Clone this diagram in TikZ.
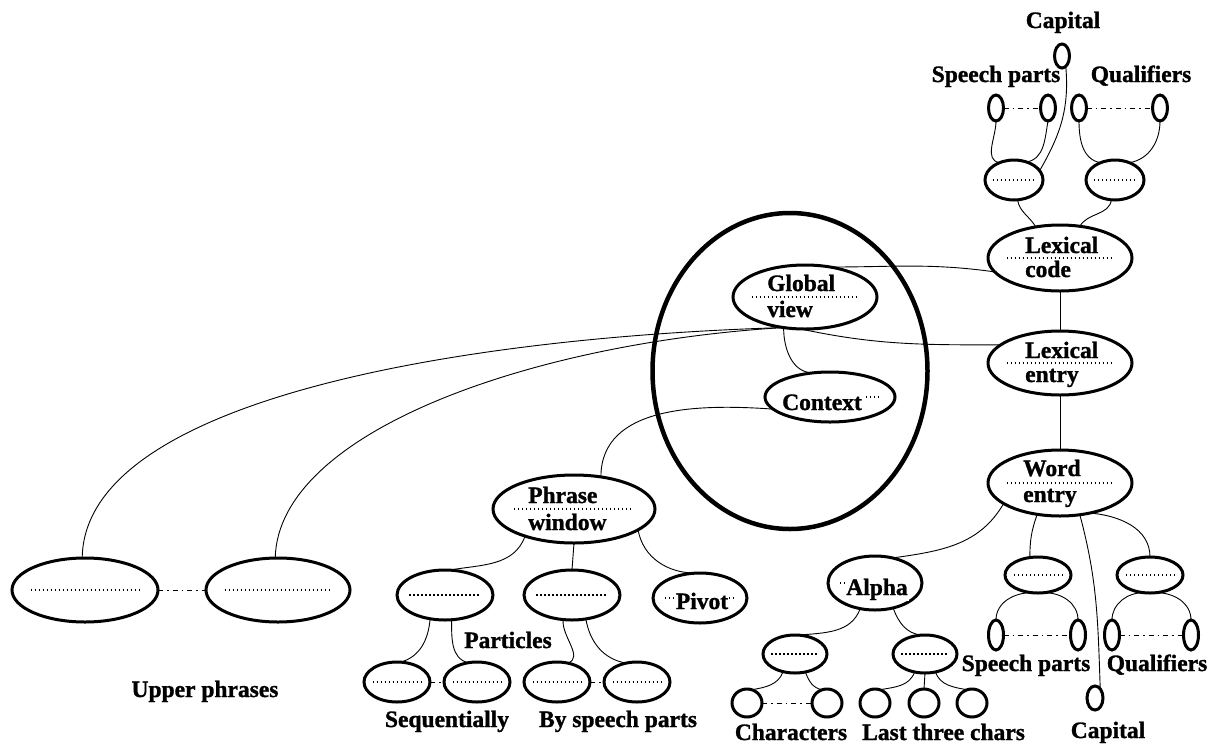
\documentclass[tikz,border=0pt]{standalone}
\usepackage{fontspec}
\setmainfont[BoldFeatures={FakeBold=1.2}]{Liberation Serif}
\usetikzlibrary{shapes.geometric,calc}
\begin{document}
\begin{tikzpicture}[x=1pt,y=1pt,
  dotline/.style={line width=1.2pt, dash pattern=on 1.2pt off 2.8pt},
  el/.style 2 args={ellipse, draw, line width=3pt, minimum width=#1, minimum height=#2, inner sep=0pt, outer sep=0pt},
  dl/.style 2 args={el={#1}{#2}, path picture={\draw[dotline] ($(path picture bounding box.west)!0.13!(path picture bounding box.east)$) -- ($(path picture bounding box.west)!0.87!(path picture bounding box.east)$);}},
  bigel/.style={ellipse, draw, line width=4.5pt, minimum width=275, minimum height=316, inner sep=0pt},
  lbl/.style={font=\bfseries\fontsize{23.5}{26}\selectfont, inner sep=0pt},
  wlbl/.style={lbl, fill=white, inner sep=1pt},
  conn/.style={line width=0.9pt},
  ddash/.style={line width=0.9pt, dash pattern=on 5pt off 4pt on 1.5pt off 4pt}
]
\useasboundingbox (0,0) rectangle (1216,-745);

% ---------- big ellipse ----------
\node[bigel] (bigring) at (790,-371) {};

% ---------- top group ----------
\node[el={15}{24}] (capt) at (1062,-56) {};
\node[el={15}{26}] (ts1) at (996,-108) {};
\node[el={15}{26}] (ts2) at (1048,-108) {};
\node[el={15}{26}] (ts3) at (1079,-108) {};
\node[el={15}{26}] (ts4) at (1160,-108) {};
\node[dl={58}{40}] (tml) at (1014,-180) {};
\node[dl={58}{40}] (tmr) at (1115,-180) {};

% ---------- main column ----------
\node[dl={144}{66}] (lexcode) at (1060,-258) {};
\node[dl={144}{64}] (lexentry) at (1060,-363) {};
\node[dl={144}{66}] (wordentry) at (1060,-483) {};
\node[dl={144}{64}] (globalview) at (805,-297) {};
\node[dl={130}{50}] (context) at (830,-397) {};
\node[dl={162}{68}] (phrasewin) at (574,-509) {};

% ---------- word entry children ----------
\node[dl={66}{36}] (wml) at (1038,-575) {};
\node[dl={66}{36}] (wmr) at (1150,-575) {};
\node[el={15}{30}] (ws1) at (996,-635) {};
\node[el={15}{30}] (ws2) at (1078,-635) {};
\node[el={15}{30}] (ws3) at (1112,-635) {};
\node[el={15}{30}] (ws4) at (1191,-635) {};
\node[el={16}{24}] (capb) at (1095,-698) {};

% ---------- alpha ----------
\node[dl={94}{54}] (alpha) at (875,-583) {};
\node[dl={64}{38}] (aml) at (795,-654) {};
\node[dl={64}{38}] (amr) at (925,-654) {};
\node[el={30}{28}] (as1) at (747,-703) {};
\node[el={30}{28}] (as2) at (827,-703) {};
\node[el={30}{28}] (as3) at (875,-703) {};
\node[el={30}{28}] (as4) at (924,-703) {};
\node[el={30}{28}] (as5) at (972,-703) {};

% ---------- phrase window children ----------
\node[dl={96}{50}] (pl) at (445,-595) {};
\node[dl={96}{50}] (pm) at (572,-595) {};
\node[dl={94}{50}] (pivot) at (700,-598) {};
\node[dl={66}{40}] (ps1) at (397,-682) {};
\node[dl={66}{40}] (ps2) at (477,-682) {};
\node[dl={66}{40}] (ps3) at (557,-682) {};
\node[dl={66}{40}] (ps4) at (637,-682) {};

% ---------- upper phrases ----------
\node[dl={146}{64}] (up1) at (85,-590) {};
\node[dl={144}{64}] (up2) at (278,-590) {};

% ---------- labels inside ellipses ----------
\node[lbl, anchor=base west] (lexcodeA) at (1025,-253) {Lexical};
\node[lbl, anchor=base west] (lexcodeB) at (1025,-277) {code};
\node[lbl, anchor=base west] (lexentryA) at (1025,-358) {Lexical};
\node[lbl, anchor=base west] (lexentryB) at (1025,-382) {entry};
\node[lbl, anchor=base west] (wordA) at (1023,-476) {Word};
\node[lbl, anchor=base west] (wordB) at (1023,-502) {entry};
\node[lbl, anchor=base west] (globA) at (767,-291) {Global};
\node[lbl, anchor=base west] (globB) at (767,-317) {view};
\node[lbl, anchor=base west] (phrA) at (528,-503) {Phrase};
\node[lbl, anchor=base west] (phrB) at (528,-530) {window};
\node[wlbl, anchor=base] (ctxt) at (822,-410) {Context};
\node[wlbl, anchor=base] (alphat) at (877,-595) {Alpha};
\node[wlbl, anchor=base] (pivott) at (702,-609) {Pivot};

% ---------- free labels ----------
\node[lbl, anchor=base] (tcap) at (1063,-28) {Capital};
\node[lbl, anchor=base] (tsp) at (996,-82) {Speech parts};
\node[lbl, anchor=base] (tq) at (1141,-82) {Qualifiers};
\node[lbl, anchor=base] (bsp) at (1026,-671) {Speech parts};
\node[lbl, anchor=base] (bq) at (1157,-671) {Qualifiers};
\node[lbl, anchor=base] (bcap) at (1108,-738) {Capital};
\node[lbl, anchor=base] (chars) at (791,-740) {Characters};
\node[lbl, anchor=base west] (last3) at (862,-740) {Last three chars};
\node[lbl, anchor=base] (seq) at (447,-727) {Sequentially};
\node[lbl, anchor=base] (bysp) at (618,-727) {By speech parts};
\node[lbl, anchor=base] (part) at (508,-648) {Particles};
\node[lbl, anchor=base] (upph) at (205,-697) {Upper phrases};

% ---------- connectors: top group ----------
\draw[conn] (capt.290) to[out=-85,in=60] (tml.20);
\draw[conn] (ts1.south) to[out=-90,in=170] (tml.130);
\draw[conn] (ts2.south) to[out=-100,in=10] (tml.55);
\draw[conn] (ts3.south) to[out=-90,in=170] (tmr.130);
\draw[conn] (ts4.south) to[out=-90,in=10] (tmr.50);
\draw[ddash] (ts1.east) -- (ts2.west);
\draw[ddash] (ts3.east) -- (ts4.west);
\draw[conn] (tml.280) to[out=-80,in=120] (lexcode.128);
\draw[conn] (tmr.260) to[out=-100,in=60] (lexcode.58);

% ---------- main column ----------
\draw[conn] (lexcode.south) -- (lexentry.north);
\draw[conn] (lexentry.south) -- (wordentry.north);
\draw[conn] (globalview.50) to[out=0,in=172] (lexcode.192);
\draw[conn] (globalview.262) to[out=-12,in=180] (lexentry.163);
\draw[conn] (globalview.235) to[out=-90,in=180] (context.125);
\draw[conn] (context.192) to[out=176,in=90] (phrasewin.50);
\draw[conn] (up1.95) .. controls +(2,157) and +(-330,-10) .. (globalview.235);
\draw[conn] (up2.95) .. controls +(3,127) and +(-250,-15) .. (globalview.235);
\draw[ddash] (up1.east) -- (up2.west);

% ---------- word entry ----------
\draw[conn] (wordentry.234) to[out=-110,in=90] (wml.115);
\draw[conn] (wordentry.-45) to[out=-5,in=90] (wmr.north);
\draw[conn] (wordentry.-58) to[out=-75,in=92] (capb.60);
\draw[conn] (wordentry.200) to[out=-120,in=8] (alpha.55);
\draw[conn] (ws1.north) to[out=90,in=180] (wml.250);
\draw[conn] (ws2.north) to[out=90,in=0] (wml.290);
\draw[conn] (ws3.north) to[out=90,in=180] (wmr.250);
\draw[conn] (ws4.north) to[out=90,in=0] (wmr.290);
\draw[ddash] (ws1.east) -- (ws2.west);
\draw[ddash] (ws3.east) -- (ws4.west);

% ---------- alpha ----------
\draw[conn] (alpha.240) to[out=-110,in=5] (aml.80);
\draw[conn] (alpha.306) to[out=-70,in=175] (amr.100);
\draw[conn] (aml.236) to[out=-110,in=10] (as1.70);
\draw[conn] (aml.300) to[out=-70,in=170] (as2.110);
\draw[conn] (amr.240) to[out=-110,in=10] (as3.70);
\draw[conn] (amr.south) -- (as4.north);
\draw[conn] (amr.300) to[out=-70,in=170] (as5.110);
\draw[ddash] (as1.east) -- (as2.west);

% ---------- phrase window ----------
\draw[conn] (phrasewin.209) to[out=-110,in=10] (pl.80);
\draw[conn] (phrasewin.south) -- (pm.north);
\draw[conn] (phrasewin.342) to[out=-80,in=180] (pivot.100);
\draw[conn] (pl.238) to[out=-95,in=15] (ps1.80);
\draw[conn] (pl.285) to[out=-90,in=165] (ps2.115);
\draw[conn] (pm.250) to[out=-95,in=20] (ps3.60);
\draw[conn] (pm.300) to[out=-80,in=170] (ps4.120);
\draw[ddash] (ps1.east) -- (ps2.west);
\draw[ddash] (ps3.east) -- (ps4.west);
\end{tikzpicture}
\end{document}
